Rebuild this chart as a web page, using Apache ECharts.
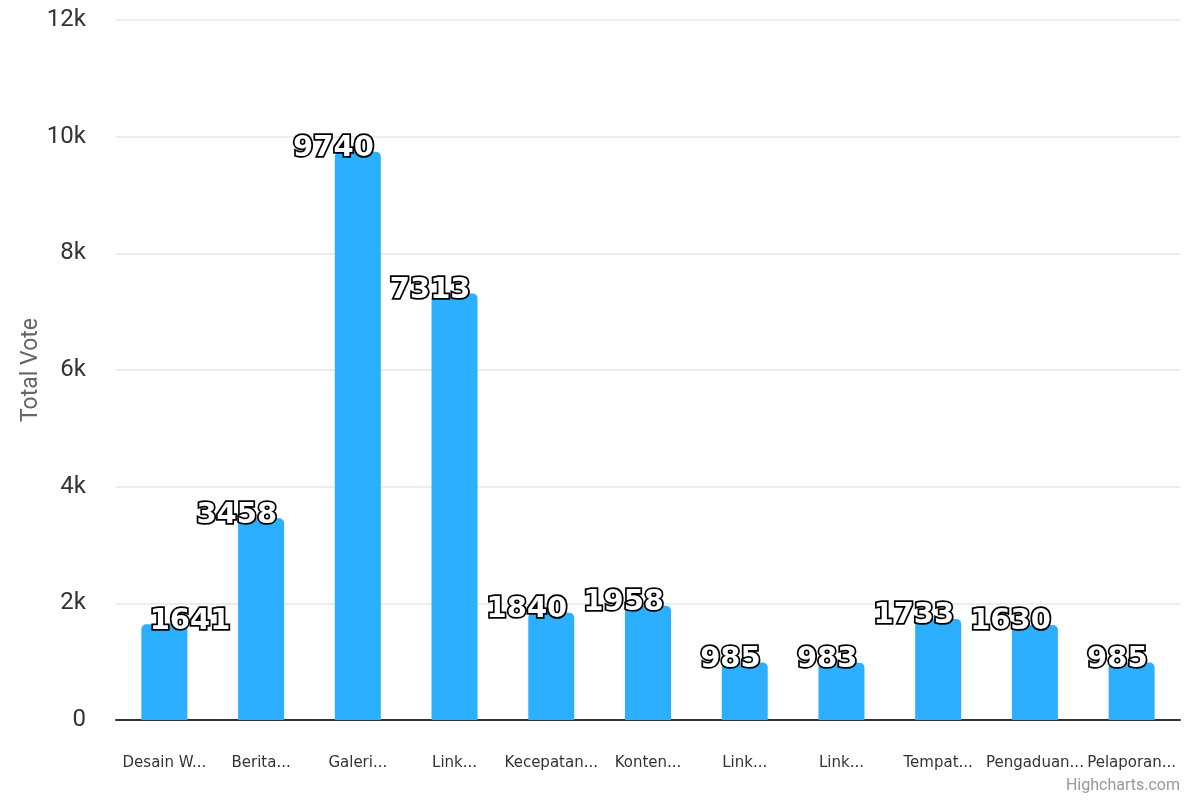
<!DOCTYPE html>
<html>
<head>
<meta charset="utf-8">
<script src="https://cdn.jsdelivr.net/npm/echarts@6/dist/echarts.min.js"></script>
<style>html,body{margin:0;padding:0;background:#fff}#c{width:1200px;height:800px}</style>
</head>
<body>
<div id="c"></div>
<script>
const categories = ["Desain W...", "Berita...", "Galeri...", "Link...", "Kecepatan...", "Konten...", "Link...", "Link...", "Tempat...", "Pengaduan...", "Pelaporan..."];
const votes = [1641, 3458, 9740, 7313, 1840, 1958, 985, 983, 1733, 1630, 985];
const yTicks = [0, 2000, 4000, 6000, 8000, 10000, 12000];

const chart = echarts.init(document.getElementById('c'), null, {renderer: 'canvas'});
const data = votes.map((v, i) => ({
  value: v,
  label: { offset: i === 0 ? [66, 12] : [16, 12] }
}));
chart.setOption({
  animation: false,
  grid: { left: 116, right: 20, top: 20, bottom: 80 },
  xAxis: {
    type: 'category',
    data: categories,
    axisLine: { lineStyle: { color: '#333', width: 2 } },
    axisTick: { show: false },
    axisLabel: { color: '#333', fontSize: 15, fontFamily: 'DejaVu Sans', margin: 36, interval: 0 }
  },
  yAxis: {
    type: 'value',
    min: yTicks[0],
    max: yTicks[yTicks.length - 1],
    interval: 2000,
    name: 'Total Vote',
    nameLocation: 'middle',
    nameGap: 85,
    nameMoveOverlap: false,
    nameTextStyle: { color: '#666', fontSize: 23, fontFamily: 'Roboto', verticalAlign: 'middle' },
    axisLabel: {
      color: '#333', fontSize: 24, fontFamily: 'Roboto', margin: 30,
      formatter: v => v === 0 ? '0' : (v / 1000) + 'k'
    },
    splitLine: { lineStyle: { color: '#e6e6e6', width: 1.5 } }
  },
  series: [{
    type: 'bar',
    data: data,
    barWidth: 46,
    itemStyle: { color: '#2caffe', borderRadius: [5, 5, 0, 0] },
    label: {
      show: true,
      position: 'top',
      distance: 0,
      align: 'right',
      fontFamily: 'DejaVu Sans',
      fontWeight: 'bold',
      fontSize: 29,
      lineHeight: 30,
      color: '#fff',
      textBorderColor: '#000',
      textBorderWidth: 3.5
    }
  }],
  graphic: [{
    type: 'text',
    right: 20,
    bottom: 6,
    style: { text: 'Highcharts.com', fill: '#999', fontSize: 16, fontFamily: 'Roboto' }
  }]
});
</script>
</body>
</html>
